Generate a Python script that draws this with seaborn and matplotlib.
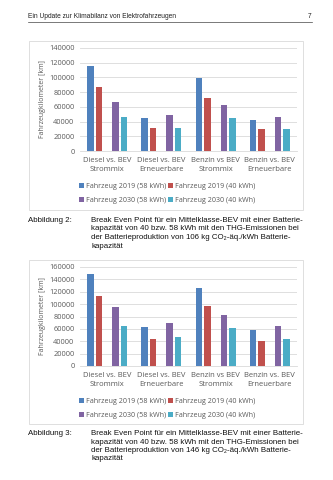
import matplotlib
matplotlib.use("Agg")
import matplotlib.pyplot as plt
import seaborn as sns
import pandas as pd
from matplotlib.patches import Patch, Rectangle
from matplotlib.lines import Line2D

categories = ["Diesel vs. BEV\nStrommix", "Diesel vs. BEV\nErneuerbare",
              "Benzin vs BEV\nStrommix", "Benzin vs. BEV\nErneuerbare"]
series = ["Fahrzeug 2019 (58 kWh)", "Fahrzeug 2019 (40 kWh)",
          "Fahrzeug 2030 (58 kWh)", "Fahrzeug 2030 (40 kWh)"]
colors = ["#4F81BD", "#C0504D", "#8064A2", "#4BACC6"]

fig2_v2019_58 = [116000, 45500, 99000, 42300]
fig2_v2019_40 = [87000, 31000, 71500, 29500]
fig2_v2030_58 = [66500, 48700, 62300, 46000]
fig2_v2030_40 = [46500, 31500, 44500, 30200]

fig3_v2019_58 = [148600, 62700, 126000, 58400]
fig3_v2019_40 = [113500, 43200, 97300, 41100]
fig3_v2030_58 = [95000, 69200, 83200, 64300]
fig3_v2030_40 = [64300, 46500, 61100, 44300]

yticks1 = [0, 20000, 40000, 60000, 80000, 100000, 120000, 140000]
yticks2 = [0, 20000, 40000, 60000, 80000, 100000, 120000, 140000, 160000]

SPACER = " "
W, H = 333, 480
fig = plt.figure(figsize=(W / 100, H / 100), dpi=100)
fig.patch.set_facecolor("white")

chart_font = ["Open Sans", "DejaVu Sans"]
page_font = ["Liberation Sans", "DejaVu Sans"]
gray = "#595959"


def build_df(v1, v2, v3, v4):
    rows = []
    for i, c in enumerate(categories):
        for s, vals in zip(series[:2], (v1, v2)):
            rows.append((c, s, vals[i]))
        rows.append((c, SPACER, 0))
        for s, vals in zip(series[2:], (v3, v4)):
            rows.append((c, s, vals[i]))
    return pd.DataFrame(rows, columns=["cat", "series", "km"])


def px_axes(left, top, right, bottom):
    return fig.add_axes([left / W, 1 - bottom / H, (right - left) / W, (bottom - top) / H])


def draw_chart(ax, df, yticks, label_y1, leg_y):
    hue_order = series[:2] + [SPACER] + series[2:]
    pal = {series[0]: colors[0], series[1]: colors[1], SPACER: "white",
           series[2]: colors[2], series[3]: colors[3]}
    sns.barplot(data=df, x="cat", y="km", hue="series", hue_order=hue_order,
                palette=pal, order=categories, width=0.77, ax=ax,
                linewidth=0, saturation=1, legend=False, err_kws={"linewidth": 0})
    for p in ax.patches:
        w = p.get_width()
        nw = w * 0.78
        p.set_x(p.get_x() + (w - nw) / 2)
        p.set_width(nw)
    ax.set_ylim(0, yticks[-1])
    ax.set_xlim(-0.5, 3.5)
    ax.set_yticks(yticks)
    ax.set_yticklabels([str(t) for t in yticks], fontsize=5.3, color=gray, family=chart_font)
    ax.set_xticks(range(4))
    ax.set_xticklabels([])
    ax.tick_params(length=0, pad=4)
    ax.grid(axis="y", color="#d9d9d9", linewidth=0.6)
    ax.set_axisbelow(True)
    for s in ["top", "right", "left"]:
        ax.spines[s].set_visible(False)
    ax.spines["bottom"].set_color("#d9d9d9")
    ax.spines["bottom"].set_linewidth(0.6)
    ax.set_xlabel("")
    ax.set_ylabel("Fahrzeugkilometer [km]", fontsize=5.0, color=gray, family=chart_font, labelpad=2)
    for i, c in enumerate(categories):
        x_fig = (80 + (i + 0.5) * (217 / 4)) / W
        fig.text(x_fig, 1 - label_y1 / H, c, ha="center", va="top", fontsize=5.5,
                 color=gray, family=chart_font, linespacing=1.45)
    handles = [Patch(facecolor=colors[k], edgecolor="none") for k in (0, 2, 1, 3)]
    labels = [series[k] for k in (0, 2, 1, 3)]
    fig.legend(handles, labels, ncol=2, loc="center", bbox_to_anchor=(167 / W, 1 - leg_y / H),
               frameon=False, handlelength=0.7, handleheight=0.7,
               handletextpad=0.3, columnspacing=0.3, labelspacing=0.95,
               prop={"family": chart_font, "size": 5.1}, labelcolor=gray)


# header
fig.text(28 / W, 1 - 18.5 / H, "Ein Update zur Klimabilanz von Elektrofahrzeugen",
         fontsize=4.8, family=page_font, color="#222222", va="baseline")
fig.text(311 / W, 1 - 18.5 / H, "7", fontsize=4.8, family=page_font, color="#222222",
         va="baseline", ha="right")
fig.add_artist(Line2D([28 / W, 312 / W], [1 - 21.5 / H, 1 - 21.5 / H], color="#444444", linewidth=0.5))

# frames
for top, bot in ((41, 210), (260, 424)):
    fig.add_artist(Rectangle((29 / W, 1 - bot / H), (303 - 29) / W, (bot - top) / H,
                             fill=False, edgecolor="#d9d9d9", linewidth=0.6))

ax1 = px_axes(80, 48, 297, 151)
draw_chart(ax1, build_df(fig2_v2019_58, fig2_v2019_40, fig2_v2030_58, fig2_v2030_40),
           yticks1, 157, 193.5)

ax2 = px_axes(80, 267, 297, 366)
draw_chart(ax2, build_df(fig3_v2019_58, fig3_v2019_40, fig3_v2030_58, fig3_v2030_40),
           yticks2, 372, 408.5)

cap_kw = dict(fontsize=5.7, family=page_font, color="#111111", va="top", linespacing=1.3)
fig.text(28 / W, 1 - 217 / H, "Abbildung 2:", **cap_kw)
fig.text(91 / W, 1 - 217 / H,
         "Break Even Point für ein Mittelklasse-BEV mit einer Batterie-\n"
         "kapazität von 40 bzw. 58 kWh mit den THG-Emissionen bei\n"
         "der Batterieproduktion von 106 kg CO₂-äq./kWh Batterie-\n"
         "kapazität", **cap_kw)
fig.text(28 / W, 1 - 430 / H, "Abbildung 3:", **cap_kw)
fig.text(91 / W, 1 - 430 / H,
         "Break Even Point für ein Mittelklasse-BEV mit einer Batterie-\n"
         "kapazität von 40 bzw. 58 kWh mit den THG-Emissionen bei\n"
         "der Batterieproduktion von 146 kg CO₂-äq./kWh Batterie-\n"
         "kapazität", **cap_kw)

fig.savefig("out.png", dpi=100, facecolor="white")
